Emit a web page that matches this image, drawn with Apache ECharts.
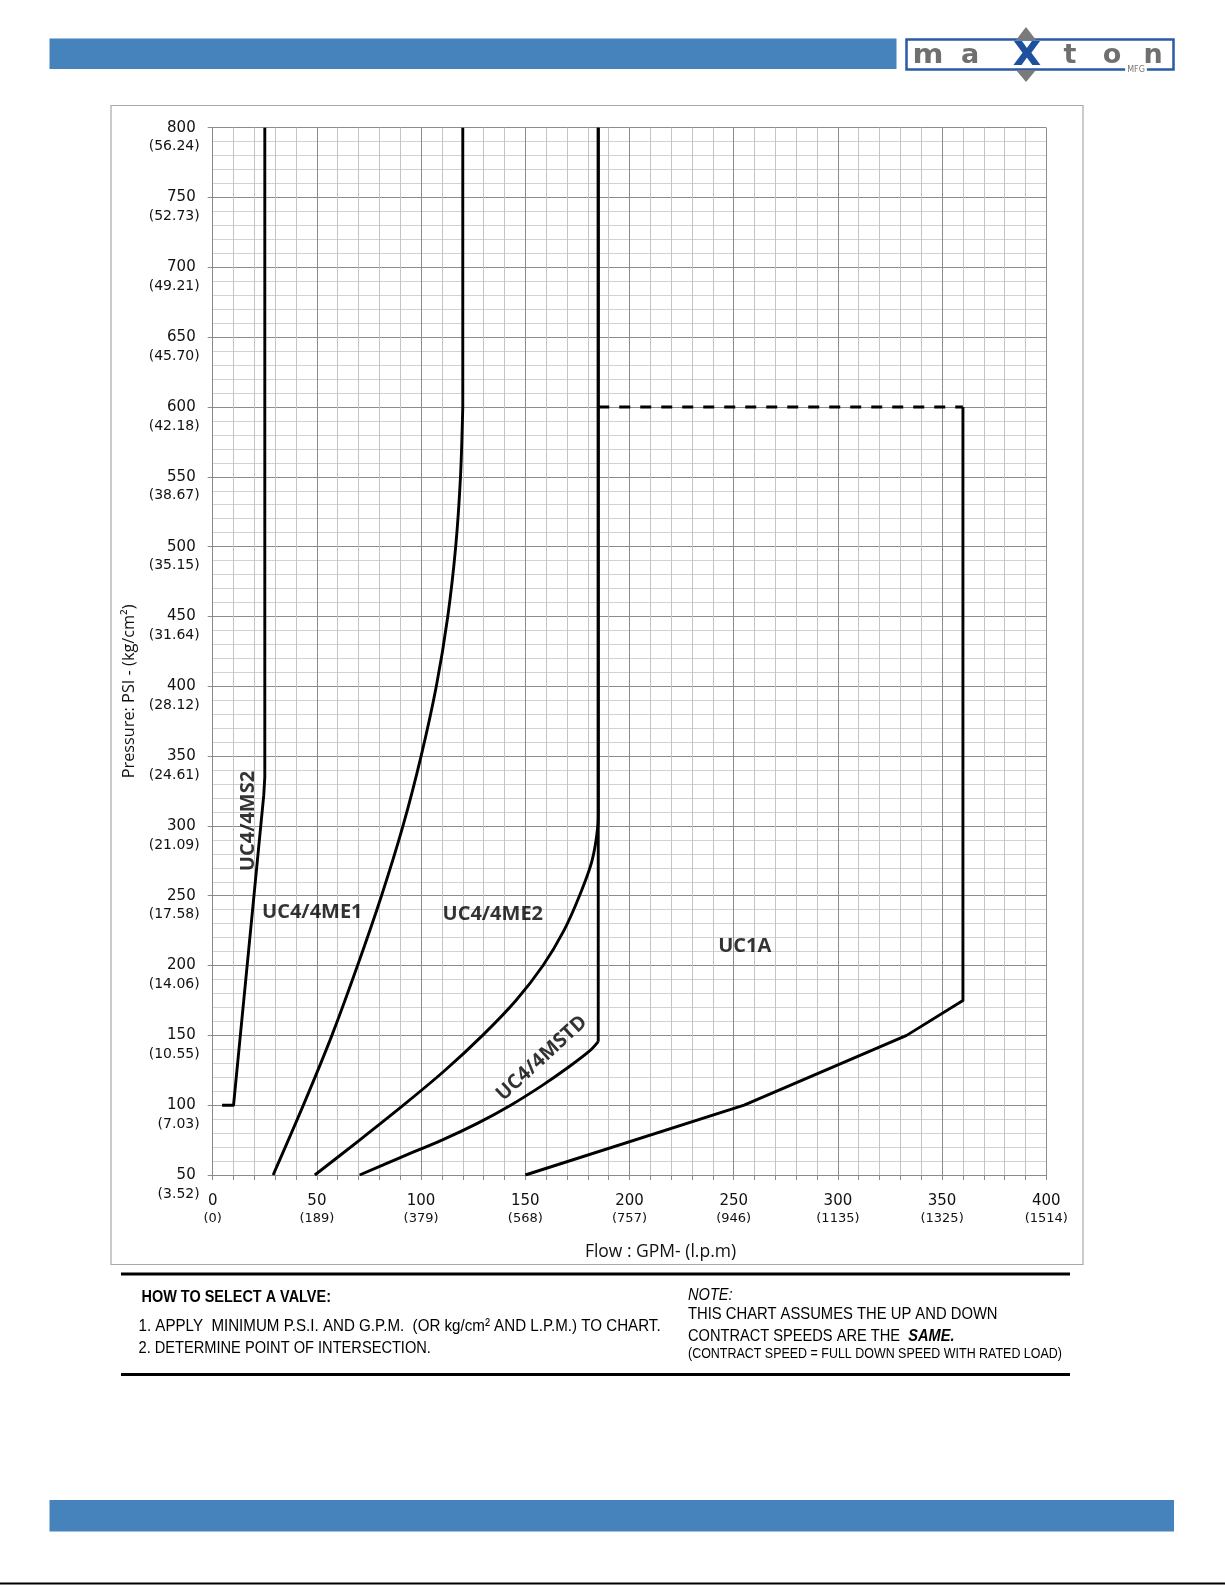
<!DOCTYPE html>
<html>
<head>
<meta charset="utf-8">
<title>Valve selection chart</title>
<script src="https://cdn.jsdelivr.net/npm/echarts@6/dist/echarts.min.js"></script>
<style>
  html, body { margin: 0; padding: 0; background: #fff; }
  #chart { width: 1225px; height: 1585px; }
</style>
</head>
<body>
<div id="chart"></div>
<script>
// tick labels
var gpmTicks = [0, 50, 100, 150, 200, 250, 300, 350, 400];
var lpmLabels = ['(0)', '(189)', '(379)', '(568)', '(757)', '(946)', '(1135)', '(1325)', '(1514)'];
var psiTicks = [50, 100, 150, 200, 250, 300, 350, 400, 450, 500, 550, 600, 650, 700, 750, 800];
var kgLabels = ['(3.52)', '(7.03)', '(10.55)', '(14.06)', '(17.58)', '(21.09)', '(24.61)', '(28.12)',
  '(31.64)', '(35.15)', '(38.67)', '(42.18)', '(45.70)', '(49.21)', '(52.73)', '(56.24)'];

// curves (flow GPM, pressure PSI); the last two points of each are the straight vertical part
var ms2Gpm = [4.5, 10, 24.5, 25, 25];
var ms2Psi = [100, 100, 322, 335, 800];
var me1Gpm = [29, 43.5, 57.2, 69.5, 81, 91.3, 100, 107.3, 112.8, 116.6, 118.9, 120, 120];
var me1Psi = [50, 100, 150, 200, 250, 300, 350, 400, 450, 500, 550, 600, 800];
var me2Gpm = [49, 70.5, 91.5, 111.5, 129.5, 145.5, 158.5, 168.5, 176, 182, 184.8, 185, 185];
var me2Psi = [50, 75, 100, 125, 150, 175, 200, 225, 250, 275, 300, 310, 800];
var stdGpm = [70.5, 90, 110, 127, 143, 158, 171, 181, 185, 185];
var stdPsi = [50, 62.5, 75, 87, 100, 114, 127.5, 139, 145.5, 800];
var uc1aGpm = [150, 255, 333, 360, 360];
var uc1aPsi = [50, 100, 150, 175, 600];
var limitGpm = [185, 360];
var limitPsi = [600, 600];

// curve labels
var labelNames = ['UC4/4MS2', 'UC4/4ME1', 'UC4/4ME2', 'UC4/4MSTD', 'UC1A'];
var labelGpm = [17.2, 47.8, 134.4, 157.9, 255.3];
var labelPsi = [303.5, 237.8, 236.7, 133.6, 213.5];
var labelRotate = [90, 0, 0, 42.6, 0];

var zip = function(xs, ys) {
  return xs.map(function(x, i) { return [x, ys[i]]; });
};

var lineSeries = function(name, data, smooth, dashed) {
  return {
    name: name,
    type: 'line',
    data: data,
    symbol: 'none',
    smooth: smooth,
    silent: true,
    lineStyle: {
      color: '#000',
      width: 2.9,
      type: dashed ? [11, 10] : 'solid',
      cap: 'butt',
      join: 'round'
    }
  };
};

// smooth curve part plus the vertical part at the top
var curvePair = function(name, xs, ys) {
  var pts = zip(xs, ys);
  var n = pts.length;
  return [
    lineSeries(name, pts.slice(0, n - 1), 0.3, false),
    lineSeries(name + ' top', pts.slice(n - 2), false, false)
  ];
};

var labelData = labelNames.map(function(n, i) {
  return {
    name: n,
    value: [labelGpm[i], labelPsi[i]],
    label: { rotate: labelRotate[i] }
  };
});

var tickFont = 'DejaVu Sans';
var nameFont = 'Open Sans';
var noteFont = '"Liberation Sans", Arial, sans-serif';

var chart = echarts.init(document.getElementById('chart'), null, { renderer: 'canvas' });

var noteText = function(x, y, text, font, sx) {
  return {
    type: 'text', x: x, y: y, scaleX: sx,
    style: { text: text, font: font, fill: '#000', verticalAlign: 'middle' }
  };
};

var logoLetter = function(x, ch) {
  return {
    type: 'text', x: x, y: 55.5,
    style: { text: ch, font: 'bold 27px "DejaVu Sans"', fill: '#6f6f6f', align: 'center', verticalAlign: 'middle' }
  };
};

var option = {
  backgroundColor: '#fff',
  animation: false,
  grid: { left: 212.7, right: 178.7, top: 127.7, bottom: 410 },
  xAxis: {
    type: 'value',
    min: 0,
    max: 400,
    interval: 50,
    name: 'Flow : GPM- (l.p.m)',
    nameLocation: 'middle',
    nameGap: 68,
    nameTextStyle: { fontFamily: nameFont, fontSize: 17.5, color: '#111', padding: [0, 0, 0, 62] },
    axisLine: { show: true, lineStyle: { color: '#8a8a8a', width: 1 } },
    axisTick: { show: true, length: 5, lineStyle: { color: '#8a8a8a' } },
    minorTick: { show: true, splitNumber: 5, length: 5, lineStyle: { color: '#8a8a8a' } },
    splitLine: { show: true, lineStyle: { color: '#8c8c8c', width: 1 } },
    minorSplitLine: { show: true, lineStyle: { color: '#c4c4c4', width: 1 } },
    axisLabel: {
      margin: 18,
      formatter: function(v) {
        var i = gpmTicks.indexOf(v);
        return '{a|' + v + '}\n{b|' + lpmLabels[i] + '}';
      },
      rich: {
        a: { fontFamily: tickFont, fontSize: 15, lineHeight: 17, color: '#111' },
        b: { fontFamily: tickFont, fontSize: 13, lineHeight: 17, color: '#111' }
      }
    }
  },
  yAxis: {
    type: 'value',
    min: 50,
    max: 800,
    interval: 50,
    name: 'Pressure: PSI - (kg/cm\u00B2)',
    nameLocation: 'middle',
    nameGap: 74,
    nameRotate: 90,
    nameTextStyle: { fontFamily: nameFont, fontSize: 16.3, color: '#111', padding: [0, 80, 0, 0] },
    axisLine: { show: true, lineStyle: { color: '#8a8a8a', width: 1 } },
    axisTick: { show: true, length: 5, lineStyle: { color: '#8a8a8a' } },
    minorTick: { show: false, splitNumber: 5 },
    splitLine: { show: true, lineStyle: { color: '#8c8c8c', width: 1 } },
    minorSplitLine: { show: true, lineStyle: { color: '#d2d2d2', width: 1 } },
    axisLabel: {
      margin: 13,
      align: 'right',
      formatter: function(v) {
        var i = psiTicks.indexOf(v);
        return '{s| }\n{a|' + v + '}\n{b|' + kgLabels[i] + '}';
      },
      rich: {
        s: { fontSize: 10, lineHeight: 19 },
        a: { fontFamily: tickFont, fontSize: 15, lineHeight: 19, color: '#111', padding: [0, 4, 0, 0], align: 'right' },
        b: { fontFamily: tickFont, fontSize: 14, lineHeight: 19, color: '#111', align: 'right' }
      }
    }
  },
  series: [].concat(
    [lineSeries('UC4/4MS2', zip(ms2Gpm, ms2Psi), false, false)],
    curvePair('UC4/4ME1', me1Gpm, me1Psi),
    curvePair('UC4/4ME2', me2Gpm, me2Psi),
    curvePair('UC4/4MSTD', stdGpm, stdPsi),
    [
      lineSeries('UC1A', zip(uc1aGpm, uc1aPsi), false, false),
      lineSeries('UC1A limit', zip(limitGpm, limitPsi), false, true),
      {
        type: 'scatter',
        symbolSize: 0,
        silent: true,
        data: labelData,
        label: {
          show: true,
          position: 'inside',
          formatter: '{b}',
          fontFamily: nameFont,
          fontWeight: 'bold',
          fontSize: 20,
          color: '#000'
        }
      }
    ]
  ),
  graphic: [
    // frame round the chart
    { type: 'rect', shape: { x: 111, y: 105.5, width: 972, height: 1159 }, style: { fill: 'none', stroke: '#a8a8a8', lineWidth: 1.2 }, z: -10 },
    // header and footer bars
    { type: 'rect', shape: { x: 49.5, y: 38.5, width: 847, height: 30.5 }, style: { fill: '#4682bc' } },
    { type: 'rect', shape: { x: 49.5, y: 1500, width: 1124.5, height: 31.5 }, style: { fill: '#4682bc' } },
    { type: 'line', shape: { x1: 0, y1: 1583.5, x2: 1225, y2: 1583.5 }, style: { stroke: '#000', lineWidth: 2 } },
    // logo
    { type: 'rect', shape: { x: 906.5, y: 39.5, width: 267, height: 30 }, style: { fill: '#fff', stroke: '#2b5aa6', lineWidth: 2.5 } },
    { type: 'polygon', shape: { points: [[1016, 40], [1036, 40], [1026, 27]] }, style: { fill: '#7a7a7a' } },
    { type: 'polygon', shape: { points: [[1016, 70], [1036, 70], [1026, 82]] }, style: { fill: '#7a7a7a' } },
    { type: 'text', x: 928, y: 55.5, scaleX: 1.1, style: { text: 'm', font: 'bold 27px "DejaVu Sans"', fill: '#6f6f6f', align: 'center', verticalAlign: 'middle' } },
    logoLetter(970, 'a'),
    logoLetter(1070, 't'),
    logoLetter(1112, 'o'),
    logoLetter(1153, 'n'),
    { type: 'text', x: 1027, y: 54, style: { text: 'x', font: 'bold 44px "DejaVu Sans"', fill: '#1f4f9f', align: 'center', verticalAlign: 'middle' } },
    { type: 'text', x: 1136, y: 70, style: { text: 'MFG', font: '8px "DejaVu Sans"', fill: '#777', align: 'center', verticalAlign: 'middle', backgroundColor: '#fff', padding: [0, 2] } },
    // notes under the chart
    { type: 'line', shape: { x1: 121, y1: 1274, x2: 1070, y2: 1274 }, style: { stroke: '#000', lineWidth: 3 } },
    { type: 'line', shape: { x1: 121, y1: 1374.5, x2: 1070, y2: 1374.5 }, style: { stroke: '#000', lineWidth: 3 } },
    noteText(141.5, 1297, 'HOW TO SELECT A VALVE:', 'bold 17px ' + noteFont, 0.85),
    noteText(138.5, 1326, '1. APPLY  MINIMUM P.S.I. AND G.P.M.  (OR kg/cm\u00B2 AND L.P.M.) TO CHART.', '17px ' + noteFont, 0.89),
    noteText(138.5, 1348.5, '2. DETERMINE POINT OF INTERSECTION.', '17px ' + noteFont, 0.86),
    noteText(688, 1295, 'NOTE:', 'italic 17px ' + noteFont, 0.86),
    noteText(688, 1314, 'THIS CHART ASSUMES THE UP AND DOWN', '17px ' + noteFont, 0.87),
    {
      type: 'text', x: 688, y: 1336, scaleX: 0.86,
      style: {
        text: '{n|CONTRACT SPEEDS ARE THE  }{s|SAME.}',
        verticalAlign: 'middle',
        rich: {
          n: { font: '17px ' + noteFont, fill: '#000' },
          s: { font: 'italic bold 17px ' + noteFont, fill: '#000' }
        }
      }
    },
    noteText(688, 1354.5, '(CONTRACT SPEED = FULL DOWN SPEED WITH RATED LOAD)', '14px ' + noteFont, 0.89)
  ]
};

chart.setOption(option);
</script>
</body>
</html>
